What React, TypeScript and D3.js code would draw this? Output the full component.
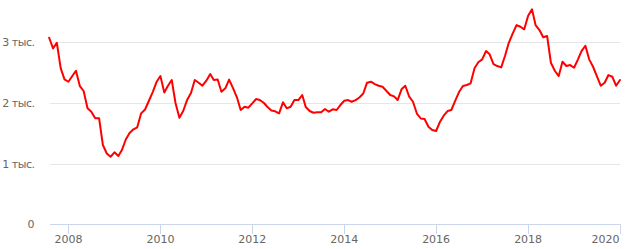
import React from "react";
import * as d3 from "d3";

const startMonth = "2007-08";
const values: number[] = [
  3075, 2900, 2993, 2571, 2390, 2350, 2444, 2531, 2279, 2197, 1912, 1856,
  1747, 1747, 1307, 1167, 1114, 1187, 1126, 1224, 1398, 1505, 1566, 1599,
  1829, 1892, 2032, 2180, 2345, 2444, 2172, 2279, 2378, 1999, 1757, 1867,
  2048, 2164, 2378, 2334, 2284, 2367, 2477, 2378, 2386, 2185, 2241, 2386,
  2246, 2093, 1884, 1938, 1922, 1994, 2065, 2048, 2004, 1933, 1875, 1862,
  1829, 2011, 1912, 1938, 2048, 2048, 2131, 1933, 1867, 1839, 1846, 1846,
  1900, 1856, 1895, 1884, 1966, 2037, 2048, 2020, 2048, 2090, 2156, 2334,
  2350, 2312, 2284, 2268, 2202, 2131, 2109, 2048, 2225, 2284, 2103, 2020,
  1826, 1744, 1735, 1608, 1554, 1538, 1691, 1790, 1867, 1884, 2040, 2180,
  2279, 2296, 2324, 2571, 2670, 2719, 2856, 2802, 2642, 2609, 2587, 2774,
  2996, 3148, 3284, 3256, 3214, 3438, 3543, 3284, 3202, 3082, 3103, 2663,
  2531, 2444, 2680, 2609, 2625, 2581, 2719, 2856, 2943, 2719, 2597, 2444,
  2284, 2334, 2460, 2432, 2284, 2378,
];
const yTicks = [0, 1000, 2000, 3000];
const yTickLabels = ["0", "1 тыс.", "2 тыс.", "3 тыс."];
const xTickYears = [2008, 2010, 2012, 2014, 2016, 2018, 2020];

const W = 631;
const H = 249;
const left = 49.15;
const right = 620;
const bottom = 224.3;

export default function App() {
  const [sy, sm] = startMonth.split("-").map(Number);
  const dates = values.map((_, i) => new Date(sy, sm - 1 + i, 1));
  const x = d3
    .scaleTime()
    .domain([dates[0], new Date(2020, 0, 1)])
    .range([left, right]);
  const y = d3.scaleLinear().domain([0, 3000]).range([bottom, 42.3]);
  const line = d3
    .line<number>()
    .x((_, i) => x(dates[i]))
    .y((d) => y(d))
    .curve(d3.curveLinear);
  const font = "'DejaVu Sans', Verdana, sans-serif";
  return (
    <div style={{ position: "absolute", left: 0, top: 0 }}>
      <svg width={W} height={H} style={{ display: "block", background: "#fff" }}>
        {yTicks.map((t) =>
          t === 0 ? null : (
            <line
              key={"g" + t}
              x1={50}
              x2={right}
              y1={Math.round(y(t)) + 0.5}
              y2={Math.round(y(t)) + 0.5}
              stroke="#e6e6e6"
              strokeWidth={1}
            />
          )
        )}
        <line x1={50} x2={right + 0.5} y1={224.5} y2={224.5} stroke="#ccd6eb" strokeWidth={1} />
        {xTickYears.map((yr) => {
          const px = Math.round(x(new Date(yr, 0, 1))) + 0.5;
          return (
            <line key={"t" + yr} x1={px} x2={px} y1={224.5} y2={234} stroke="#ccd6eb" strokeWidth={1} />
          );
        })}
        {yTicks.map((t, i) => (
          <text
            key={"yl" + t}
            x={34.5}
            y={y(t) + 4}
            textAnchor="end"
            fontFamily={font}
            fontSize={11}
            letterSpacing={t === 0 ? 0 : -0.5}
            fill="#666666"
          >
            {yTickLabels[i]}
          </text>
        ))}
        {xTickYears.map((yr, i) => {
          const px = x(new Date(yr, 0, 1));
          const last = i === xTickYears.length - 1;
          return (
            <text
              key={"xl" + yr}
              x={last ? right - 0.5 : px}
              y={243}
              textAnchor={last ? "end" : "middle"}
              fontFamily={font}
              fontSize={11}
              fill="#666666"
            >
              {yr}
            </text>
          );
        })}
        <path
          d={line(values) || ""}
          fill="none"
          stroke="#ff0000"
          strokeWidth={2}
          strokeLinejoin="round"
          strokeLinecap="round"
        />
      </svg>
    </div>
  );
}
